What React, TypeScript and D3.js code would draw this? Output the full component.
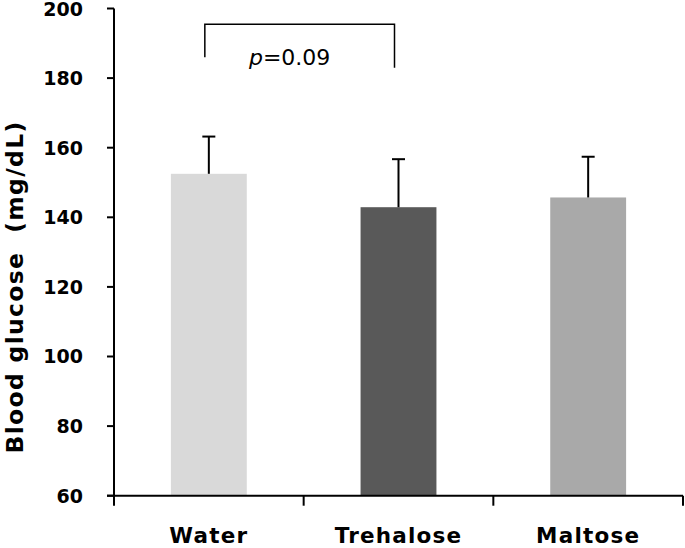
import React from "react";
import * as d3 from "d3";

const categories = ["Water", "Trehalose", "Maltose"];
const means = [152.5, 142.9, 145.7];
const errors = [10.7, 13.8, 11.7];
const colors = ["#d9d9d9", "#595959", "#a9a9a9"];
const yTicks = [60, 80, 100, 120, 140, 160, 180, 200];
const bracket = { from: "Water", to: "Trehalose", top: 195.5, leftEnd: 186, rightEnd: 183, label: "0.09" };

const W = 685;
const H = 548;

export default function App() {
  const x = d3.scaleBand<string>().domain(categories).range([114, 683]).paddingInner(0).paddingOuter(0);
  const y = d3.scaleLinear().domain([60, 200]).range([495.7, 8.5]);
  const bw = x.bandwidth();
  const barW = bw * 0.4;
  const cx = (c: string) => (x(c) as number) + bw / 2;
  const y0 = y(60);
  const boundaries = [...categories.map((c) => x(c) as number), 683];

  const bl = cx(bracket.from) - 4;
  const br = cx(bracket.to) - 4;

  return (
    <svg width={W} height={H} style={{ position: "absolute", left: 0, top: 0, background: "#fff" }}>
      {/* bars */}
      {categories.map((c, i) => (
        <rect key={c} x={cx(c) - barW / 2} y={y(means[i])} width={barW} height={y0 - y(means[i])} fill={colors[i]} />
      ))}
      {/* error bars */}
      {categories.map((c, i) => (
        <g key={c + "e"} stroke="#000" strokeWidth={2}>
          <line x1={cx(c)} x2={cx(c)} y1={y(means[i])} y2={y(means[i] + errors[i])} />
          <line x1={cx(c) - 6.5} x2={cx(c) + 6.5} y1={y(means[i] + errors[i])} y2={y(means[i] + errors[i])} />
        </g>
      ))}
      {/* y axis */}
      <line x1={114} x2={114} y1={y(200)} y2={y0} stroke="#000" strokeWidth={2} />
      {yTicks.map((t) => (
        <g key={t}>
          <line x1={107} x2={114} y1={y(t)} y2={y(t)} stroke="#000" strokeWidth={2} />
          <text x={83} y={Math.max(y(t), 9.5)} dy="0.36em" textAnchor="end" fontFamily="DejaVu Sans" fontWeight="bold" fontSize={19} fill="#000">
            {t}
          </text>
        </g>
      ))}
      {/* x axis */}
      <line x1={107} x2={683} y1={y0} y2={y0} stroke="#000" strokeWidth={2} />
      {boundaries.map((b, i) => (
        <line key={i} x1={b} x2={b} y1={y0} y2={y0 + 10} stroke="#000" strokeWidth={2} />
      ))}
      {categories.map((c) => (
        <text key={c + "l"} x={cx(c)} y={542.7} textAnchor="middle" fontFamily="DejaVu Sans" fontWeight="bold" fontSize={21.5} letterSpacing={1.2} fill="#000">
          {c}
        </text>
      ))}
      {/* y title */}
      <text
        transform={`translate(23,${287}) rotate(-90)`}
        textAnchor="middle"
        fontFamily="DejaVu Sans"
        fontWeight="bold"
        fontSize={23.5}
        letterSpacing={1.3}
        fill="#000"
        style={{ whiteSpace: "pre" }}
      >
        {"Blood glucose  (mg/dL)"}
      </text>
      {/* significance bracket */}
      <path
        d={`M${bl},${y(bracket.leftEnd)}V${y(bracket.top)}H${br}V${y(bracket.rightEnd)}`}
        fill="none"
        stroke="#000"
        strokeWidth={1.5}
      />
      <text x={(bl + br) / 2 - 10} y={65} textAnchor="middle" fontFamily="DejaVu Sans" fontSize={22} fill="#000">
        <tspan fontStyle="italic">p</tspan>
        {"=" + bracket.label}
      </text>
    </svg>
  );
}
